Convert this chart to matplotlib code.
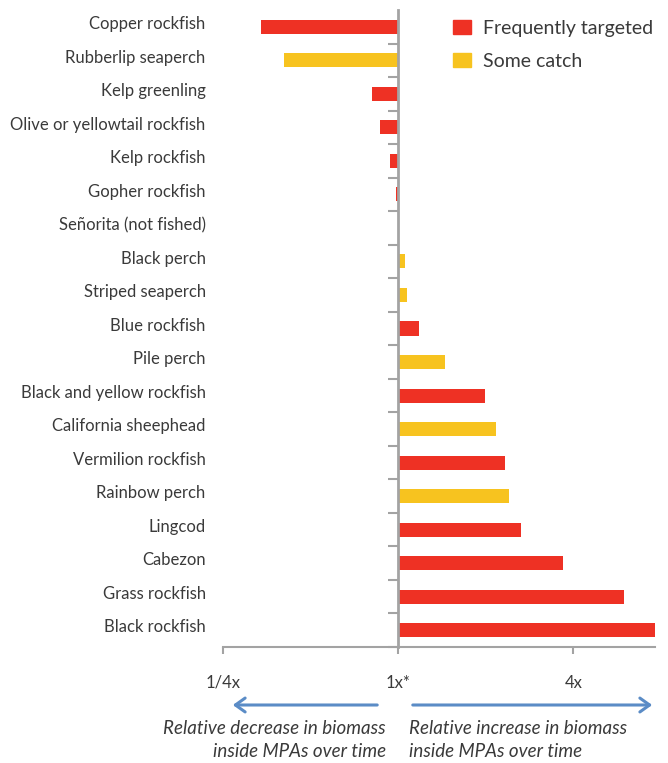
import numpy as np
import matplotlib.pyplot as plt
from matplotlib import font_manager
from matplotlib.patches import Patch, FancyArrowPatch

names = {f.name for f in font_manager.fontManager.ttflist}
fam = 'Liberation Sans Narrow' if 'Liberation Sans Narrow' in names else 'Lato'
plt.rcParams['font.family'] = [fam, 'DejaVu Sans']

species = ['Copper rockfish', 'Rubberlip seaperch', 'Kelp greenling',
           'Olive or yellowtail rockfish', 'Kelp rockfish', 'Gopher rockfish',
           'Señorita (not fished)', 'Black perch', 'Striped seaperch',
           'Blue rockfish', 'Pile perch', 'Black and yellow rockfish',
           'California sheephead', 'Vermilion rockfish', 'Rainbow perch',
           'Lingcod', 'Cabezon', 'Grass rockfish', 'Black rockfish']
# ratio of biomass change inside MPAs (1 = no change)
ratio = [0.337, 0.405, 0.812, 0.865, 0.936, 0.982, 1.0, 1.055, 1.071,
         1.178, 1.448, 1.987, 2.168, 2.329, 2.403, 2.643, 3.687, 5.98, 7.64]
# 'F' = frequently targeted, 'S' = some catch
group = ['F', 'S', 'F', 'F', 'F', 'F', 'F', 'S', 'S',
         'F', 'S', 'F', 'S', 'F', 'S', 'F', 'F', 'F', 'F']

RED = '#EE3124'
YEL = '#F7C31F'
GREY = '#A3A3A3'
TXT = '#3A3A3A'
BLUE = '#5B8CC6'
fs = 12

fig = plt.figure(figsize=(6.68, 7.63), dpi=100)
ax = fig.add_axes([223/668, 1-647/763, 432/668, 637/763])

y = np.arange(len(species))
r = np.array(ratio)
cols = [RED if g == 'F' else YEL for g in group]
ax.barh(y, r - 1, left=1, height=0.42, color=cols, zorder=2)

ax.set_xscale('log', base=4)
ax.set_xlim(0.25, 7.64)
ax.set_ylim(len(species) - 0.5, -0.5)

for s in ['top', 'right']:
    ax.spines[s].set_visible(False)
ax.spines['left'].set_position(('data', 1))
ax.spines['left'].set_color(GREY)
ax.spines['left'].set_linewidth(2)
ax.spines['bottom'].set_color(GREY)
ax.spines['bottom'].set_linewidth(1.5)

ax.set_xticks([0.25, 1, 4])
ax.set_xticklabels(['1/4x', '1x*', '4x'])
ax.xaxis.set_minor_locator(plt.NullLocator())
ax.tick_params(axis='x', direction='out', length=5, width=1.5, color=GREY,
               labelsize=fs, labelcolor=TXT, pad=15)

ax.set_yticks(y)
ax.set_yticklabels([])
ax.set_yticks(y + 0.5, minor=True)
ax.tick_params(axis='y', which='major', length=0)
ax.tick_params(axis='y', which='minor', direction='out', length=7, width=1.5,
               color=GREY)

for i, name in enumerate(species):
    ax.annotate(name, xy=(0, i), xycoords=ax.get_yaxis_transform(),
                xytext=(-12.5, 2), textcoords='offset points',
                ha='right', va='center', fontsize=fs, color=TXT)

handles = [Patch(color=RED, label='Frequently targeted'),
           Patch(color=YEL, label='Some catch')]
ax.legend(handles=handles, loc='upper left', bbox_to_anchor=(0.532, 0.984),
          frameon=False, fontsize=14, labelcolor=TXT, handlelength=0.93,
          handleheight=0.72, handletextpad=0.62, labelspacing=0.8,
          borderpad=0, borderaxespad=0)

# direction arrows under the axis
for x0, x1 in [(380, 230), (410, 655)]:
    fig.patches.append(FancyArrowPatch(
        (x0/668, 1-705/763), (x1/668, 1-705/763), transform=fig.transFigure,
        arrowstyle='->,head_length=7,head_width=5', color=BLUE, lw=2.2))

fig.text(386/668, 1-740/763, 'Relative decrease in biomass\ninside MPAs over time',
         ha='right', va='center', multialignment='right', style='italic',
         fontsize=13.5, color=TXT, linespacing=1.42)
fig.text(409/668, 1-740/763, 'Relative increase in biomass\ninside MPAs over time',
         ha='left', va='center', multialignment='left', style='italic',
         fontsize=13.5, color=TXT, linespacing=1.42)

plt.savefig('out.png', dpi=100)
